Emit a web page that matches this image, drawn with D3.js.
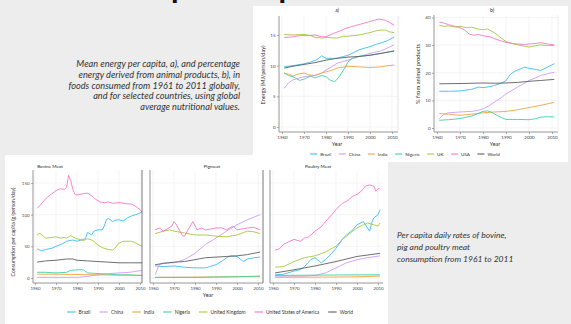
<!DOCTYPE html>
<html>
<head>
<meta charset="utf-8">
<script src="https://cdn.jsdelivr.net/npm/d3@7"></script>
<style>
  html, body { margin: 0; padding: 0; background: #ededed; }
  svg { display: block; }
</style>
</head>
<body>
<svg id="chart" width="571" height="324"></svg>
<script>
// ---- series metadata ----
const countries = ["Brazil", "China", "India", "Nigeria", "UK", "USA", "World"];
const countryLongNames = ["Brazil", "China", "India", "Nigeria", "United Kingdom", "United States of America", "World"];
const palette = ["#3dbdf0", "#cf9cfb", "#f2a540", "#42cfa7", "#a4ca3c", "#fb76c8", "#5f5f5f"];
const yearTicks = [1960, 1970, 1980, 1990, 2000, 2010];

// ---- a) mean energy per capita, MJ/person/day ----
const energyBrazil  = [[1961,9.8],[1965,10.0],[1970,10.3],[1973,10.6],[1976,11.0],[1978,11.6],[1980,11.2],[1983,11.2],[1985,11.2],[1988,11.5],[1990,11.7],[1993,12.2],[1995,12.6],[1998,12.9],[2000,13.1],[2003,13.5],[2005,13.7],[2008,14.1],[2011,14.7]];
const energyChina   = [[1961,6.3],[1963,7.2],[1965,7.7],[1968,8.0],[1970,8.2],[1973,8.3],[1975,8.4],[1978,8.8],[1980,9.3],[1983,9.9],[1985,10.4],[1988,10.7],[1990,10.9],[1995,11.5],[2000,12.0],[2005,12.4],[2008,12.9],[2011,13.4]];
const energyIndia   = [[1961,8.8],[1963,8.6],[1965,8.3],[1967,8.6],[1970,8.8],[1972,8.5],[1975,8.4],[1978,8.8],[1980,9.0],[1983,9.3],[1985,9.6],[1990,9.9],[1995,9.8],[2000,9.7],[2005,9.8],[2008,10.0],[2011,10.1]];
const energyNigeria = [[1961,8.8],[1963,8.4],[1965,8.2],[1968,7.6],[1970,7.8],[1973,8.3],[1975,8.0],[1978,8.4],[1980,8.2],[1982,7.6],[1984,7.4],[1986,8.2],[1988,9.3],[1990,10.6],[1992,11.2],[1995,11.5],[2000,11.7],[2005,12.0],[2008,12.2],[2011,12.4]];
const energyUK      = [[1961,15.1],[1965,15.0],[1970,15.1],[1973,14.9],[1975,14.6],[1978,14.5],[1980,14.6],[1985,14.5],[1988,14.8],[1990,14.8],[1995,15.0],[2000,15.4],[2003,15.7],[2005,15.8],[2007,15.8],[2009,15.5],[2011,15.4]];
const energyUSA     = [[1961,14.6],[1965,14.7],[1968,14.9],[1972,14.9],[1975,15.0],[1978,14.7],[1980,14.7],[1983,15.2],[1986,15.6],[1989,16.1],[1993,16.5],[1996,16.8],[1999,17.1],[2002,17.4],[2004,17.6],[2007,17.4],[2009,17.0],[2011,16.6]];
const energyWorld   = [[1961,9.6],[1965,9.9],[1970,10.2],[1975,10.5],[1980,10.9],[1985,11.2],[1990,11.4],[1995,11.5],[2000,11.7],[2005,12.0],[2011,12.4]];

// ---- b) percentage of energy from animal products ----
const shareBrazil  = [[1961,13.3],[1965,13.3],[1970,13.4],[1975,14.0],[1978,14.8],[1980,14.6],[1983,15.0],[1985,15.4],[1988,16.2],[1990,17.2],[1992,19.5],[1994,20.6],[1996,21.3],[1998,22.0],[2000,21.6],[2003,21.2],[2005,20.8],[2008,22.0],[2011,23.3]];
const shareChina   = [[1961,3.4],[1963,5.0],[1965,5.5],[1970,5.8],[1975,6.0],[1978,6.4],[1980,7.0],[1983,8.2],[1985,9.4],[1988,11.0],[1990,12.4],[1993,13.8],[1995,14.8],[1998,16.2],[2000,17.2],[2003,18.2],[2005,19.0],[2008,19.6],[2011,20.2]];
const shareIndia   = [[1961,5.2],[1965,5.0],[1970,4.6],[1975,5.0],[1980,5.5],[1985,5.8],[1990,6.0],[1995,6.6],[2000,7.4],[2005,8.2],[2011,9.3]];
const shareNigeria = [[1961,2.8],[1965,3.0],[1970,3.4],[1975,4.3],[1978,5.3],[1980,6.0],[1982,6.2],[1984,5.6],[1986,4.6],[1988,3.8],[1990,3.1],[1995,3.1],[2000,3.0],[2003,3.4],[2005,3.9],[2008,4.1],[2011,4.0]];
const shareUK      = [[1961,37.2],[1963,36.8],[1965,37.0],[1968,36.5],[1970,36.8],[1973,36.3],[1975,36.5],[1978,35.8],[1980,35.6],[1982,35.8],[1985,34.5],[1988,32.5],[1990,31.3],[1993,30.5],[1995,30.1],[1998,29.6],[2000,29.3],[2003,29.8],[2005,30.1],[2008,29.8],[2011,29.9]];
const shareUSA     = [[1961,38.3],[1963,38.0],[1965,37.4],[1968,36.8],[1970,36.3],[1972,35.5],[1974,34.0],[1976,33.6],[1978,33.8],[1980,33.4],[1983,33.0],[1985,32.3],[1988,31.5],[1990,31.0],[1993,30.6],[1995,30.4],[1998,30.2],[2000,30.4],[2003,30.6],[2005,30.9],[2008,30.4],[2011,30.1]];
const shareWorld   = [[1961,16.0],[1970,16.1],[1980,16.3],[1985,16.2],[1990,16.3],[1995,16.5],[2000,16.9],[2005,17.2],[2011,17.6]];

// ---- meat consumption, g/person/day ----
const bovineBrazil  = [[1961,46],[1963,43],[1965,45],[1968,47],[1970,50],[1973,54],[1975,58],[1978,60],[1980,58],[1982,60],[1984,62],[1985,72],[1987,68],[1988,74],[1990,76],[1992,76],[1993,82],[1994,92],[1995,94],[1997,89],[1998,91],[2000,92],[2002,90],[2004,95],[2006,98],[2008,100],[2011,104]];
const bovineChina   = [[1961,1],[1970,1],[1980,1],[1985,2.5],[1990,5],[1995,7],[2000,8],[2005,9],[2011,12]];
const bovineIndia   = [[1961,6],[1970,6],[1980,5.5],[1990,5],[2000,4.5],[2011,4]];
const bovineNigeria = [[1961,9],[1965,9],[1970,8],[1975,9],[1977,12],[1980,13],[1983,13],[1985,8],[1990,7],[1995,6],[2000,5],[2005,5],[2011,4]];
const bovineUK      = [[1961,67],[1962,71],[1964,66],[1965,63],[1968,64],[1970,65],[1972,63],[1974,64],[1975,63],[1977,67],[1979,63],[1980,62],[1983,59],[1985,62],[1987,60],[1988,58],[1990,52],[1992,48],[1995,45],[1997,44],[1998,47],[2000,55],[2002,58],[2004,58],[2006,58],[2008,55],[2011,50]];
const bovineUSA     = [[1961,110],[1963,117],[1965,125],[1968,133],[1970,138],[1972,141],[1974,140],[1975,143],[1976,162],[1977,154],[1978,140],[1979,132],[1980,131],[1983,133],[1985,134],[1987,130],[1989,124],[1991,120],[1993,119],[1995,120],[1997,118],[2000,119],[2002,118],[2004,117],[2006,117],[2008,113],[2010,108],[2011,104]];
const bovineWorld   = [[1961,25],[1965,27],[1970,28],[1975,30],[1978,30],[1980,28],[1985,27],[1990,26],[1995,25],[2000,24],[2005,24],[2011,24]];

const pigBrazil  = [[1961,19],[1965,18],[1970,19],[1975,17],[1980,16],[1985,16],[1987,18],[1990,21],[1993,27],[1995,32],[1997,35],[2000,34],[2003,26],[2005,30],[2008,32],[2011,33]];
const pigChina   = [[1961,5],[1963,21],[1965,24],[1970,24],[1975,29],[1980,39],[1985,53],[1990,63],[1995,74],[2000,84],[2005,92],[2011,100]];
const pigIndia   = [[1961,1],[1985,1.5],[2000,2],[2011,2]];
const pigNigeria = [[1961,1],[1980,1],[1990,1.5],[2000,2],[2011,3]];
const pigUK      = [[1961,70],[1965,74],[1968,76],[1970,74],[1975,71],[1980,68],[1985,68],[1990,66],[1995,65],[2000,68],[2005,74],[2008,73],[2011,70]];
const pigUSA     = [[1961,76],[1963,79],[1965,74],[1967,78],[1969,82],[1970,89],[1971,85],[1972,79],[1974,67],[1975,66],[1977,78],[1979,89],[1981,76],[1983,79],[1985,76],[1987,77],[1990,79],[1993,79],[1995,76],[1998,82],[2000,76],[2003,78],[2005,79],[2008,80],[2011,76]];
const pigWorld   = [[1961,21],[1965,23],[1970,25],[1975,26],[1980,29],[1985,32],[1990,33],[1995,34],[2000,35],[2005,37],[2011,41]];

const poultryBrazil  = [[1961,5],[1965,6],[1970,11],[1973,13],[1975,18],[1978,29],[1980,32],[1983,24],[1985,29],[1988,39],[1990,47],[1993,61],[1995,68],[1998,76],[2000,84],[2003,89],[2005,79],[2006,74],[2007,87],[2008,95],[2010,100],[2011,108]];
const poultryChina   = [[1961,3],[1975,3],[1980,4],[1985,8],[1990,16],[1995,24],[2000,29],[2005,32],[2011,35]];
const poultryIndia   = [[1961,1],[1990,1.5],[2000,2],[2011,3]];
const poultryNigeria = [[1961,4],[1980,4.5],[2000,5],[2011,5]];
const poultryUK      = [[1961,17],[1965,18],[1970,26],[1975,32],[1980,35],[1985,41],[1987,45],[1990,50],[1993,61],[1995,66],[1998,74],[2000,79],[2003,84],[2005,87],[2008,84],[2010,82],[2011,87]];
const poultryUSA     = [[1961,44],[1963,46],[1965,53],[1968,58],[1970,61],[1973,58],[1975,63],[1977,65],[1980,74],[1983,81],[1985,89],[1988,100],[1990,108],[1993,118],[1995,121],[1998,129],[2000,132],[2002,137],[2004,145],[2006,147],[2008,145],[2009,137],[2010,141],[2011,141]];
const poultryWorld   = [[1961,8],[1970,13],[1980,19],[1990,26],[2000,34],[2011,39]];

const energyTicks = [0, 5, 10, 15];
const shareTicks = [0, 10, 20, 30, 40];
const meatTicks = [0, 50, 100, 150];

// ---- drawing ----
const FONT = "Lato, 'Open Sans', 'DejaVu Sans', sans-serif";
const svg = d3.select("#chart").attr("font-family", FONT);

// Slide heading (runs off the top edge)
const heading = svg.append("g").attr("font-weight", 900).attr("font-size", 28).attr("fill", "#111");
const h1 = heading.append("text").attr("x", 0).attr("y", -1.6).text("Temporal");
const h2 = heading.append("text").attr("x", 0).attr("y", -1.6).text("patterns");
{
  const p1 = h1.node().getStartPositionOfChar(3).x;
  h1.attr("x", 175.5 - p1 - 0.15 * 28);
  h2.attr("x", 283 - 0.15 * 28);
}

// White cards
svg.append("rect").attr("x", 253).attr("y", 6).attr("width", 315).attr("height", 156).attr("fill", "#fff");
svg.append("rect").attr("x", 5).attr("y", 155).attr("width", 383).attr("height", 169).attr("fill", "#fff");

// Caption paragraphs
const capTop = ["Mean energy per capita, a), and percentage",
                "energy derived from animal products, b), in",
                "foods consumed from 1961 to 2011 globally,",
                "and for selected countries, using global",
                "average nutritional values."];
svg.append("g").attr("font-style", "italic").attr("font-size", 9.2).attr("fill", "#333")
  .attr("text-anchor", "end")
  .selectAll("text").data(capTop).join("text")
  .attr("x", 240).attr("y", (d, i) => 64 + i * 10.7).attr("dy", "0.35em").text(d => d);

const capBottom = ["Per capita daily rates of bovine,",
                   "pig and poultry meat",
                   "consumption from 1961 to 2011"];
svg.append("g").attr("font-style", "italic").attr("font-size", 8.5).attr("fill", "#333")
  .selectAll("text").data(capBottom).join("text")
  .attr("x", 397).attr("y", (d, i) => 235 + i * 12.1).attr("dy", "0.35em").text(d => d);

const line = (x, y) => d3.line().x(d => x(d[0])).y(d => y(d[1]));

function drawPanel(g, o) {
  const { l, r, t, b, x, y, yTicks, series } = o;
  // grid
  g.append("g").selectAll("line").data(yearTicks).join("line")
    .attr("x1", d => x(d)).attr("x2", d => x(d)).attr("y1", t).attr("y2", b)
    .attr("stroke", "#ececec").attr("stroke-width", 0.6);
  g.append("g").selectAll("line").data(yTicks).join("line")
    .attr("x1", l).attr("x2", r).attr("y1", d => y(d)).attr("y2", d => y(d))
    .attr("stroke", "#ececec").attr("stroke-width", 0.6);
  // series lines
  g.append("g").attr("fill", "none").attr("stroke-width", 0.9).attr("stroke-linejoin", "round")
    .selectAll("path").data(series).join("path")
    .attr("stroke", (d, i) => palette[i]).attr("d", d => line(x, y)(d));
  // x axis
  const xa = g.append("g").attr("transform", `translate(0,${b})`)
    .call(d3.axisBottom(x).tickValues(yearTicks).tickFormat(d3.format("d")).tickSize(2).tickPadding(1.5));
  xa.select(".domain").remove();
  xa.selectAll("line").attr("stroke", "#777").attr("stroke-width", 0.6);
  xa.selectAll("text").attr("font-size", o.tickFs).attr("fill", "#444").attr("font-family", FONT);
  g.append("line").attr("x1", l).attr("x2", r).attr("y1", b).attr("y2", b).attr("stroke", "#8a8a8a").attr("stroke-width", 0.9);
  // y axis
  g.append("line").attr("x1", l).attr("x2", l).attr("y1", t).attr("y2", b).attr("stroke", "#8a8a8a").attr("stroke-width", 0.9);
  if (o.yLabels) {
    const ya = g.append("g").attr("transform", `translate(${l},0)`)
      .call(d3.axisLeft(y).tickValues(yTicks).tickSize(2).tickPadding(1.5));
    ya.select(".domain").remove();
    ya.selectAll("line").attr("stroke", "#777").attr("stroke-width", 0.6);
    ya.selectAll("text").attr("font-size", o.tickFs).attr("fill", "#444").attr("font-family", FONT);
  }
  if (o.rightBorder) {
    g.append("line").attr("x1", r).attr("x2", r).attr("y1", t).attr("y2", b)
      .attr("stroke", o.rightBorder).attr("stroke-width", 0.9);
  }
  if (o.title) {
    g.append("text").attr("x", o.titleX).attr("y", o.titleY).attr("dy", "0.35em")
      .attr("text-anchor", "middle").attr("font-size", o.titleFs).attr("fill", "#222").text(o.title);
  }
}

function legend(g, cx, cy, labels, fs, keyLen, gap) {
  const items = g.append("g").attr("font-size", fs).attr("fill", "#333");
  let pos = 0;
  labels.forEach((lab, i) => {
    const it = items.append("g").attr("transform", `translate(${pos},0)`);
    it.append("line").attr("x1", 0).attr("x2", keyLen).attr("y1", 0).attr("y2", 0)
      .attr("stroke", palette[i]).attr("stroke-width", 1.1);
    const tx = it.append("text").attr("x", keyLen + 3).attr("dy", "0.35em").text(lab);
    pos += keyLen + 3 + tx.node().getComputedTextLength() + gap;
  });
  const total = pos - gap;
  items.attr("transform", `translate(${cx - total / 2},${cy})`);
}

// ---- top card: a) energy, b) % animal ----
const topCard = svg.append("g");
const xA = d3.scaleLinear().domain([1960, 2010]).range([282, 392]);
const yA = d3.scaleLinear().domain([0, 15]).range([127, 35]);
drawPanel(topCard, { l: 279, r: 398, t: 16, b: 132, x: xA, y: yA, yTicks: energyTicks, yLabels: true, tickFs: 4.5,
  series: [energyBrazil, energyChina, energyIndia, energyNigeria, energyUK, energyUSA, energyWorld],
  rightBorder: "#e2e2e2", title: "a)", titleX: 337, titleY: 10, titleFs: 5 });

const xB = d3.scaleLinear().domain([1960, 2010]).range([437, 552]);
const yB = d3.scaleLinear().domain([0, 40]).range([128, 17.5]);
drawPanel(topCard, { l: 434, r: 558, t: 15, b: 132, x: xB, y: yB, yTicks: shareTicks, yLabels: true, tickFs: 4.5,
  series: [shareBrazil, shareChina, shareIndia, shareNigeria, shareUK, shareUSA, shareWorld],
  rightBorder: "#ececec", title: "b)", titleX: 492, titleY: 10, titleFs: 5 });

topCard.append("text").attr("transform", "translate(263,75) rotate(-90)").attr("text-anchor", "middle")
  .attr("dy", "0.35em").attr("font-size", 5.6).attr("fill", "#333").text("Energy (MJ/person/day)");
topCard.append("text").attr("transform", "translate(418,74) rotate(-90)").attr("text-anchor", "middle")
  .attr("dy", "0.35em").attr("font-size", 5.8).attr("fill", "#333").text("% from animal products");
topCard.append("text").attr("x", 337).attr("y", 144).attr("dy", "0.35em").attr("text-anchor", "middle")
  .attr("font-size", 5.4).attr("fill", "#333").text("Year");
topCard.append("text").attr("x", 495).attr("y", 144).attr("dy", "0.35em").attr("text-anchor", "middle")
  .attr("font-size", 5.4).attr("fill", "#333").text("Year");
legend(topCard, 405, 154, countries, 4.6, 7, 7.5);

// ---- bottom card: meat panels ----
const bottomCard = svg.append("g");
const yM = d3.scaleLinear().domain([0, 150]).range([278, 183]);
const meatPanels = [
  { name: "Bovine Meat",  l: 33,  r: 142, x0: 35,  titleX: 50,
    series: [bovineBrazil, bovineChina, bovineIndia, bovineNigeria, bovineUK, bovineUSA, bovineWorld] },
  { name: "Pigmeat",      l: 150, r: 263, x0: 153, titleX: 212,
    series: [pigBrazil, pigChina, pigIndia, pigNigeria, pigUK, pigUSA, pigWorld] },
  { name: "Poultry Meat", l: 270, r: 383, x0: 273, titleX: 318,
    series: [poultryBrazil, poultryChina, poultryIndia, poultryNigeria, poultryUK, poultryUSA, poultryWorld] }
];
meatPanels.forEach((p, i) => {
  const x = d3.scaleLinear().domain([1960, 2010]).range([p.x0, p.x0 + 105]);
  drawPanel(bottomCard, { l: p.l, r: p.r, t: 170, b: 283, x, y: yM, yTicks: meatTicks, yLabels: i === 0, tickFs: 4.4,
    series: p.series, rightBorder: i < 2 ? "#6a6a6a" : null,
    title: p.name, titleX: p.titleX, titleY: 166, titleFs: 4.6 });
});
bottomCard.append("text").attr("transform", "translate(13,232) rotate(-90)").attr("text-anchor", "middle")
  .attr("dy", "0.35em").attr("font-size", 5.2).attr("fill", "#333").text("Consumption per capita (g/person/day)");
bottomCard.append("text").attr("x", 208).attr("y", 295.5).attr("dy", "0.35em").attr("text-anchor", "middle")
  .attr("font-size", 5.4).attr("fill", "#333").text("Year");
legend(bottomCard, 210, 312, countryLongNames, 4.9, 8.5, 9);
</script>
</body>
</html>
